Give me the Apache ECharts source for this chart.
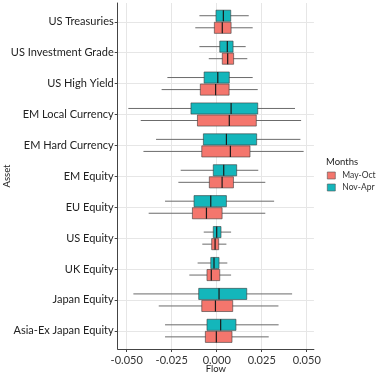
<!DOCTYPE html>
<html>
<head>
<meta charset="utf-8">
<script src="https://cdn.jsdelivr.net/npm/echarts@6/dist/echarts.min.js"></script>
<style>
html, body { margin: 0; padding: 0; background: #fff; }
#chart { width: 377px; height: 377px; }
</style>
</head>
<body>
<div id="chart"></div>
<script>
var assets = ['US Treasuries', 'US Investment Grade', 'US High Yield', 'EM Local Currency',
  'EM Hard Currency', 'EM Equity', 'EU Equity', 'US Equity', 'UK Equity', 'Japan Equity',
  'Asia-Ex Japan Equity'];
var months = ['May-Oct', 'Nov-Apr'];

// [low whisker, q1, median, q3, high whisker]
var mayOct = [
  [-0.0119, -0.0013, 0.0031, 0.0080, 0.0200],
  [-0.0044, 0.0031, 0.0061, 0.0094, 0.0170],
  [-0.0306, -0.0091, -0.0006, 0.0069, 0.0228],
  [-0.0422, -0.0107, 0.0070, 0.0220, 0.0469],
  [-0.0407, -0.0083, 0.0076, 0.0185, 0.0483],
  [-0.0213, -0.0041, 0.0030, 0.0093, 0.0270],
  [-0.0378, -0.0135, -0.0057, 0.0030, 0.0270],
  [-0.0080, -0.0028, -0.0009, 0.0011, 0.0054],
  [-0.0152, -0.0054, -0.0030, 0.0017, 0.0080],
  [-0.0322, -0.0083, -0.0007, 0.0089, 0.0343],
  [-0.0287, -0.0063, -0.0002, 0.0085, 0.0289]
];
var novApr = [
  [-0.0096, -0.0004, 0.0037, 0.0078, 0.0178],
  [-0.0096, 0.0017, 0.0059, 0.0091, 0.0161],
  [-0.0274, -0.0070, 0.0006, 0.0070, 0.0200],
  [-0.0491, -0.0143, 0.0080, 0.0228, 0.0435],
  [-0.0337, -0.0074, 0.0054, 0.0222, 0.0465],
  [-0.0200, -0.0019, 0.0039, 0.0111, 0.0231],
  [-0.0287, -0.0126, -0.0033, 0.0054, 0.0319],
  [-0.0072, -0.0019, 0.0000, 0.0024, 0.0080],
  [-0.0106, -0.0033, -0.0015, 0.0013, 0.0059],
  [-0.0463, -0.0100, 0.0013, 0.0167, 0.0419],
  [-0.0287, -0.0054, 0.0022, 0.0107, 0.0344]
];
var xTicks = [-0.05, -0.025, 0, 0.025, 0.05];

var colors = ['#F4766D', '#14B6BB'];
var font = 'Lato';
var xMin = -0.055, xMax = 0.054;

// plot frame in pixels
var plotLeft = 117.7, plotRight = 63.1;
var dataTop = 6.3, dataHeight = 340;
var band = dataHeight / assets.length;

function rows(list) {
  return list.map(function (r, i) { return [i].concat(r); });
}

// side: -1 draws above the category centre, +1 below
function boxRenderer(side, color) {
  return function (params, api) {
    var cat = api.value(0);
    var bw = api.size([0, 1])[1];
    var h = bw * 0.36;
    var y = api.coord([0, cat])[1] + side * bw * 0.195;
    var lo = api.coord([api.value(1), cat])[0];
    var q1 = api.coord([api.value(2), cat])[0];
    var med = api.coord([api.value(3), cat])[0];
    var q3 = api.coord([api.value(4), cat])[0];
    var hi = api.coord([api.value(5), cat])[0];
    return {
      type: 'group',
      children: [
        { type: 'line', shape: { x1: lo, y1: y, x2: hi, y2: y }, style: { stroke: '#6b6b6b', lineWidth: 1 } },
        { type: 'rect', shape: { x: q1, y: y - h / 2, width: q3 - q1, height: h },
          style: { fill: color, stroke: '#3a3a3a', lineWidth: 0.6 } },
        { type: 'line', shape: { x1: med, y1: y - h / 2, x2: med, y2: y + h / 2 },
          style: { stroke: '#1a1a1a', lineWidth: 1.2 } }
      ]
    };
  };
}

var myChart = echarts.init(document.getElementById('chart'));
var option = {
  animation: false,
  title: {
    text: 'Months', left: 326, top: 157, padding: 0,
    textStyle: { fontFamily: font, fontSize: 9.5, fontWeight: 'normal', color: '#222' }
  },
  legend: {
    orient: 'vertical', left: 327, top: 171, padding: 0,
    itemWidth: 8, itemHeight: 7, itemGap: 3,
    textStyle: { fontFamily: font, fontSize: 8.5, color: '#333', padding: [0, 0, 0, 2] },
    data: months.map(function (m, i) {
      return { name: m, icon: 'rect', itemStyle: { color: colors[i], borderColor: '#555', borderWidth: 0.6 } };
    })
  },
  grid: [
    // frame (axis lines)
    { left: plotLeft, right: plotRight, top: 3, bottom: 28, outerBoundsMode: 'none' },
    // x ticks, labels and vertical grid lines
    { left: 126.7, right: 70.3, top: 3, bottom: 28, outerBoundsMode: 'none' },
    // data
    { left: plotLeft, right: plotRight, top: dataTop, height: dataHeight, outerBoundsMode: 'none' },
    // horizontal grid lines through category centres
    { left: plotLeft, right: plotRight, top: dataTop + band / 2, height: band * (assets.length - 1), outerBoundsMode: 'none' }
  ],
  xAxis: [
    {
      gridIndex: 0, type: 'value', min: xMin, max: xMax,
      name: 'Flow', nameLocation: 'middle', nameGap: 15,
      nameTextStyle: { fontFamily: font, fontSize: 9.5, color: '#222' },
      axisLine: { show: true, onZero: false, lineStyle: { color: '#444', width: 1 } },
      axisTick: { show: false }, axisLabel: { show: false }, splitLine: { show: false }
    },
    {
      gridIndex: 1, type: 'value', min: xTicks[0], max: xTicks[xTicks.length - 1],
      interval: xTicks[1] - xTicks[0],
      axisLine: { show: false },
      axisTick: { show: true, length: 3, lineStyle: { color: '#444' } },
      axisLabel: {
        fontFamily: font, fontSize: 11, color: '#333', margin: 6,
        formatter: function (v) { return v.toFixed(3); }
      },
      splitLine: { show: true, lineStyle: { color: '#e6e6e6', width: 1 } }
    },
    { gridIndex: 2, type: 'value', min: xMin, max: xMax, show: false },
    { gridIndex: 3, type: 'value', min: xMin, max: xMax, show: false }
  ],
  yAxis: [
    {
      gridIndex: 0, type: 'value', min: 0, max: 1,
      name: 'Asset', nameLocation: 'middle', nameGap: 106, nameRotate: 90,
      nameTextStyle: { fontFamily: font, fontSize: 9.5, color: '#222' },
      axisLine: { show: true, onZero: false, lineStyle: { color: '#444', width: 1 } },
      axisTick: { show: false }, axisLabel: { show: false }, splitLine: { show: false }
    },
    { gridIndex: 1, type: 'value', min: 0, max: 1, show: false },
    {
      gridIndex: 2, type: 'category', data: assets, inverse: true,
      axisLine: { show: false, onZero: false },
      axisTick: { show: true, length: 3, alignWithLabel: true, lineStyle: { color: '#444' } },
      axisLabel: { fontFamily: font, fontSize: 11, color: '#222', margin: 4 },
      splitLine: { show: false }
    },
    {
      gridIndex: 3, type: 'value', min: 0, max: assets.length - 1, interval: 1,
      axisLine: { show: false }, axisTick: { show: false }, axisLabel: { show: false },
      splitLine: { show: true, lineStyle: { color: '#e6e6e6', width: 1 } }
    }
  ],
  series: [
    {
      name: months[0], type: 'custom', xAxisIndex: 2, yAxisIndex: 2,
      itemStyle: { color: colors[0] },
      encode: { x: [1, 2, 3, 4, 5], y: 0 },
      renderItem: boxRenderer(1, colors[0]),
      data: rows(mayOct)
    },
    {
      name: months[1], type: 'custom', xAxisIndex: 2, yAxisIndex: 2,
      itemStyle: { color: colors[1] },
      encode: { x: [1, 2, 3, 4, 5], y: 0 },
      renderItem: boxRenderer(-1, colors[1]),
      data: rows(novApr)
    }
  ]
};
myChart.setOption(option);
</script>
</body>
</html>
